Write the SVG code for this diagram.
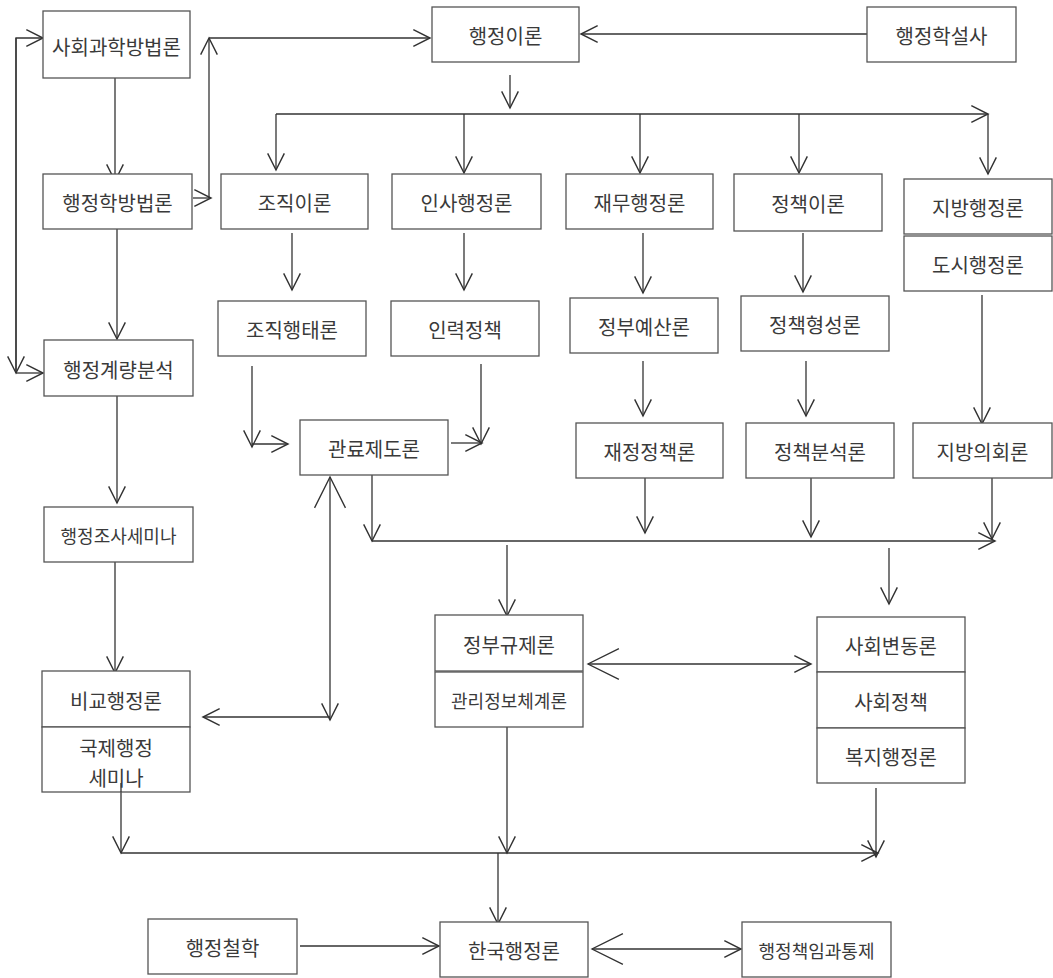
<svg xmlns="http://www.w3.org/2000/svg" width="1053" height="978" viewBox="0 0 1053 978">
<defs>
<style>
.box{fill:#fff;stroke:#555;stroke-width:1.3}
.t{font-family:"Noto Sans CJK KR","Noto Sans",sans-serif;font-size:20px;fill:#3a3a3a;text-anchor:middle;dominant-baseline:central}
.s{font-size:18px}
.c{fill:none;stroke:#333;stroke-width:1.3}
.e{marker-end:url(#a)}
.b{marker-end:url(#b)}
</style>
<marker id="a" markerUnits="userSpaceOnUse" markerWidth="20" markerHeight="20" viewBox="-17 -9 18 18" refX="0" refY="0" orient="auto" overflow="visible">
<path d="M-15,-7.5 L0,0 L-15,7.5" fill="none" stroke="#333" stroke-width="1.3"/>
</marker>
<marker id="b" markerUnits="userSpaceOnUse" markerWidth="34" markerHeight="34" viewBox="-32 -16 33 32" refX="0" refY="0" orient="auto" overflow="visible">
<path d="M-30,-15 L0,0 L-30,15" fill="none" stroke="#333" stroke-width="1.3"/>
</marker>
</defs>
<rect width="1053" height="978" fill="#fff"/>
<g id="connectors">
<path class="c e" d="M16,373 V38 H43"/>
<path class="c e" d="M16,38 V373"/>
<path class="c e" d="M16,373 H43"/>
<path class="c e" d="M115,71 V181"/>
<path class="c e" d="M193,198 H211"/>
<path class="c e" d="M209,198 V38"/>
<path class="c e" d="M209,38 H430"/>
<path class="c e" d="M867,34 H581"/>
<path class="c e" d="M510,75 V108"/>
<path class="c e" d="M276,114 H988"/>
<path class="c e" d="M276,114 V170"/>
<path class="c e" d="M464,114 V173"/>
<path class="c e" d="M640,114 V173"/>
<path class="c e" d="M799,114 V173"/>
<path class="c e" d="M988,114 V174"/>
<path class="c e" d="M292,233 V290"/>
<path class="c e" d="M464,233 V290"/>
<path class="c e" d="M643,233 V293"/>
<path class="c e" d="M803,233 V292"/>
<path class="c e" d="M117,229 V339"/>
<path class="c e" d="M252,366 V447"/>
<path class="c e" d="M252,444 H288"/>
<path class="c e" d="M481,364 V444"/>
<path class="c e" d="M451,443 H482"/>
<path class="c e" d="M643,361 V416"/>
<path class="c e" d="M806,361 V416"/>
<path class="c e" d="M982,295 V424"/>
<path class="c b" d="M330,600 V477"/>
<path class="c e" d="M330,600 V720"/>
<path class="c e" d="M330,717 H203"/>
<path class="c e" d="M117,396 V503"/>
<path class="c e" d="M115,562 V673"/>
<path class="c e" d="M372,541 H995"/>
<path class="c e" d="M372,475 V541"/>
<path class="c e" d="M645,478 V533"/>
<path class="c e" d="M811,478 V537"/>
<path class="c e" d="M992,478 V539"/>
<path class="c e" d="M507,545 V616"/>
<path class="c e" d="M889,548 V604"/>
<path class="c b" d="M700,664 H588"/>
<path class="c e" d="M700,664 H811"/>
<path class="c e" d="M121,783 V853"/>
<path class="c e" d="M121,853 H878"/>
<path class="c e" d="M507,727 V853"/>
<path class="c e" d="M498,853 V924"/>
<path class="c e" d="M876,788 V857"/>
<path class="c e" d="M300,946 H439"/>
<path class="c b" d="M665,949 H592"/>
<path class="c e" d="M665,949 H741"/>
</g>
<g id="n1"><rect class="box" x="43" y="11" width="147" height="67"/><text class="t" x="116.5" y="46">사회과학방법론</text></g>
<g id="n2"><rect class="box" x="432" y="7" width="147" height="55"/><text class="t" x="505.5" y="35">행정이론</text></g>
<g id="n3"><rect class="box" x="867" y="7" width="149" height="55"/><text class="t" x="941.5" y="35">행정학설사</text></g>
<g id="n4"><rect class="box" x="43" y="174" width="149" height="55"/><text class="t" x="117.5" y="202">행정학방법론</text></g>
<g id="n5"><rect class="box" x="221" y="174" width="147" height="55"/><text class="t" x="294.5" y="202">조직이론</text></g>
<g id="n6"><rect class="box" x="392" y="174" width="149" height="55"/><text class="t" x="466.5" y="202">인사행정론</text></g>
<g id="n7"><rect class="box" x="566" y="174" width="147" height="55"/><text class="t" x="639.5" y="202">재무행정론</text></g>
<g id="n8"><rect class="box" x="734" y="174" width="148" height="57"/><text class="t" x="808" y="203">정책이론</text></g>
<g id="n9"><rect class="box" x="904" y="179" width="148" height="55"/><text class="t" x="978" y="207">지방행정론</text><rect class="box" x="904" y="236" width="148" height="55"/><text class="t" x="978" y="264">도시행정론</text></g>
<g id="n10"><rect class="box" x="44" y="340" width="149" height="56"/><text class="t" x="118.5" y="369">행정계량분석</text></g>
<g id="n11"><rect class="box" x="218" y="301" width="148" height="55"/><text class="t" x="292" y="329">조직행태론</text></g>
<g id="n12"><rect class="box" x="391" y="301" width="148" height="55"/><text class="t" x="465" y="329">인력정책</text></g>
<g id="n13"><rect class="box" x="570" y="298" width="148" height="55"/><text class="t" x="644" y="326">정부예산론</text></g>
<g id="n14"><rect class="box" x="741" y="296" width="148" height="55"/><text class="t" x="815" y="324">정책형성론</text></g>
<g id="n15"><rect class="box" x="300" y="420" width="148" height="55"/><text class="t" x="374" y="448">관료제도론</text></g>
<g id="n16"><rect class="box" x="576" y="423" width="147" height="55"/><text class="t" x="649.5" y="451">재정정책론</text></g>
<g id="n17"><rect class="box" x="746" y="423" width="148" height="55"/><text class="t" x="820" y="451">정책분석론</text></g>
<g id="n18"><rect class="box" x="913" y="423" width="139" height="55"/><text class="t" x="982.5" y="451">지방의회론</text></g>
<g id="n19"><rect class="box" x="44" y="507" width="149" height="55"/><text class="t s" x="118.5" y="535">행정조사세미나</text></g>
<g id="n20"><rect class="box" x="435" y="615" width="148" height="56"/><text class="t" x="509" y="644">정부규제론</text><rect class="box" x="435" y="672" width="148" height="55"/><text class="t s" x="509" y="700">관리정보체계론</text></g>
<g id="n21"><rect class="box" x="817" y="617" width="148" height="55"/><text class="t" x="891" y="645">사회변동론</text><rect class="box" x="817" y="672" width="148" height="56"/><text class="t" x="891" y="701">사회정책</text><rect class="box" x="817" y="728" width="148" height="55"/><text class="t" x="891" y="756">복지행정론</text></g>
<g id="n22"><rect class="box" x="42" y="671" width="148" height="56"/><text class="t" x="116" y="700">비교행정론</text><rect class="box" x="42" y="727" width="148" height="65"/><text class="t" x="116" y="747">국제행정</text><text class="t" x="116" y="777">세미나</text></g>
<g id="n23"><rect class="box" x="148" y="919" width="149" height="55"/><text class="t" x="222.5" y="947">행정철학</text></g>
<g id="n24"><rect class="box" x="440" y="922" width="148" height="55"/><text class="t" x="514" y="950">한국행정론</text></g>
<g id="n25"><rect class="box" x="742" y="922" width="149" height="55"/><text class="t s" x="816.5" y="950">행정책임과통제</text></g>
<path class="c" d="M121,783 V792"/>
</svg>
